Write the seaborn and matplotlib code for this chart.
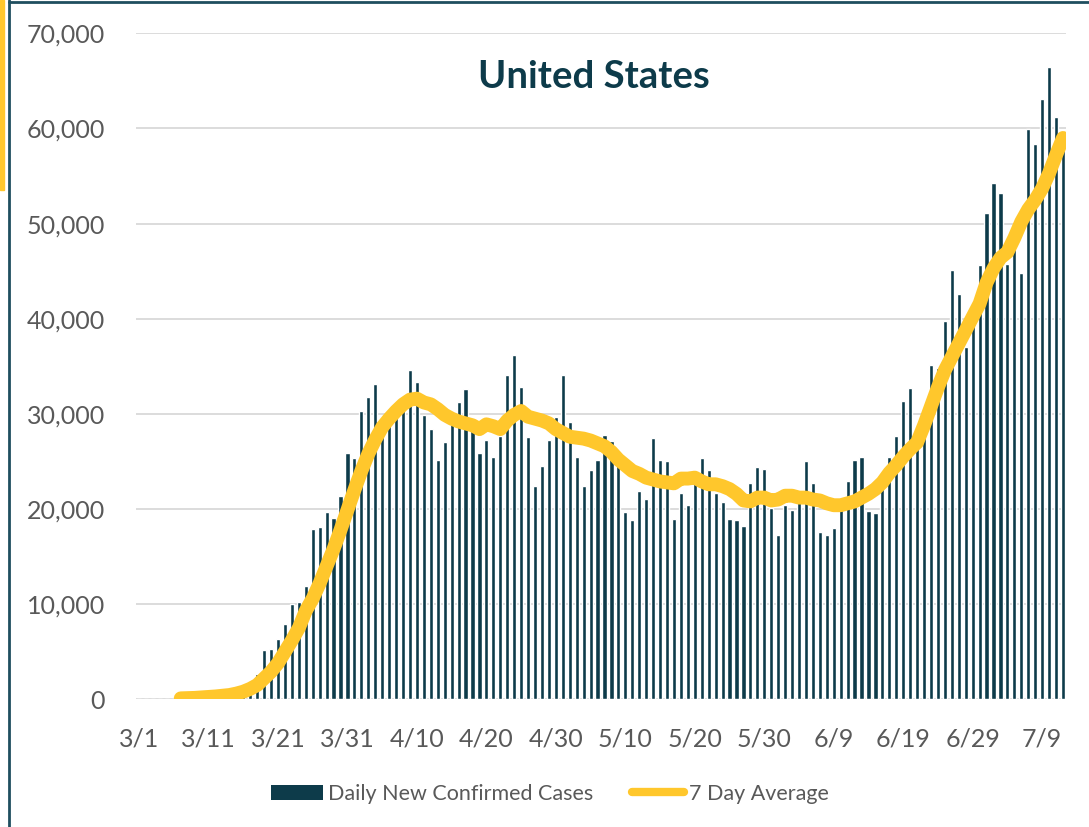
import numpy as np
import pandas as pd
import seaborn as sns
import matplotlib.pyplot as plt
from matplotlib.patches import Patch, Rectangle
from matplotlib.lines import Line2D
from matplotlib.ticker import FuncFormatter

sns.set_style("white")
plt.rcParams['font.family'] = ['Lato', 'DejaVu Sans']

# days 3/1 .. 7/12
dates = pd.date_range('2020-03-01', '2020-07-12')
day_labels = [f"{d.month}/{d.day}" for d in dates]

# daily new confirmed cases (thousands)
daily_k = [
    0.01, 0.02, 0.02, 0.03, 0.07, 0.05, 0.17, 0.12, 0.08, 0.19,
    0.36, 0.44, 0.63, 0.76, 0.9, 1.26, 1.68, 2.7, 5.2, 5.3,
    6.3, 7.9, 10.0, 10.2, 11.9, 17.9, 18.1, 19.7, 19.1, 21.4,
    25.9, 25.4, 30.3, 31.8, 33.1, 28.5, 29.5, 30.5, 31.6, 34.6,
    33.4, 29.9, 28.4, 25.2, 27.0, 29.0, 31.2, 32.6, 28.3, 25.9,
    27.3, 25.5, 27.7, 34.1, 36.2, 32.8, 27.6, 22.4, 24.5, 27.3,
    29.7, 34.1, 29.1, 25.5, 22.4, 24.1, 25.2, 27.8, 27.1, 24.8,
    19.7, 18.8, 21.9, 21.1, 27.5, 25.2, 25.0, 19.0, 21.7, 20.4,
    23.0, 25.4, 24.1, 21.7, 20.7, 18.9, 18.8, 18.2, 22.7, 24.4,
    24.2, 20.1, 17.3, 20.4, 19.9, 20.9, 25.1, 22.7, 17.6, 17.3,
    18.0, 19.9, 22.9, 25.2, 25.5, 19.8, 19.6, 23.6, 25.5, 27.7,
    31.4, 32.7, 26.5, 30.4, 35.1, 34.8, 39.8, 45.1, 42.6, 37.0,
    41.3, 45.6, 51.1, 54.3, 53.2, 45.8, 49.7, 44.8, 59.9, 58.4,
    63.1, 66.5, 61.2, 58.5,
]

# 7 day average (thousands), starts on 3/7
avg_start = 6
avg_k = [
    0.1, 0.12, 0.15, 0.2, 0.25, 0.3, 0.38, 0.45, 0.6, 0.8,
    1.1, 1.5, 2.2, 2.9, 3.8, 5.0, 6.2, 7.5, 9.3, 10.6,
    12.2, 14.0, 15.8, 17.8, 19.9, 22.0, 24.0, 25.8, 27.3, 28.6,
    29.5, 30.3, 31.0, 31.5, 31.6, 31.2, 31.0, 30.5, 29.9, 29.5,
    29.2, 29.0, 28.8, 28.4, 28.9, 28.7, 28.4, 29.3, 29.9, 30.3,
    29.7, 29.5, 29.3, 29.0, 28.4, 28.0, 27.6, 27.5, 27.4, 27.2,
    26.9, 26.6, 26.0, 25.2, 24.6, 24.0, 23.7, 23.3, 23.1, 22.9,
    22.8, 22.7, 23.2, 23.2, 23.3, 22.9, 22.6, 22.6, 22.4, 22.1,
    21.6, 20.9, 20.8, 21.2, 21.2, 20.9, 21.0, 21.4, 21.4, 21.2,
    21.2, 21.0, 20.9, 20.6, 20.4, 20.4, 20.6, 20.8, 21.2, 21.6,
    22.1, 22.8, 23.8, 24.6, 25.5, 26.3, 27.0, 28.8, 30.8, 32.8,
    34.6, 36.0, 37.4, 38.8, 40.2, 41.6, 43.8, 45.3, 46.4, 47.0,
    48.5, 50.2, 51.5, 52.5, 53.7, 55.3, 57.2, 59.0,
]

teal = '#0D3B4A'
gold = '#FFC72C'
gray = '#595959'

bars = pd.DataFrame({'day': day_labels, 'cases': np.array(daily_k) * 1000})
avg = pd.DataFrame({'pos': np.arange(avg_start, avg_start + len(avg_k)),
                    'avg': np.array(avg_k) * 1000})

fig = plt.figure(figsize=(10.89, 8.27), dpi=100)
ax = fig.add_axes([0.1245, 0.1544, 0.8548, 0.8053])

sns.barplot(data=bars, x='day', y='cases', color=teal, width=0.6,
            saturation=1, ax=ax)
sns.lineplot(data=avg, x='pos', y='avg', color=gold, linewidth=10,
             solid_capstyle='round', ax=ax)

ax.set_xlim(-0.5, len(day_labels) - 0.5)
ax.set_ylim(0, 70000)
ax.set_yticks(range(0, 70001, 10000))
ax.yaxis.set_major_formatter(FuncFormatter(lambda v, p: f"{int(v):,}"))
ax.set_xticks(range(0, len(day_labels), 10))
ax.set_xticklabels(day_labels[::10])
ax.set_xlabel('')
ax.set_ylabel('')
ax.tick_params(axis='x', length=0, pad=20, labelsize=18, labelcolor=gray)
ax.tick_params(axis='y', length=0, pad=22, labelsize=18, labelcolor=gray)
ax.yaxis.grid(True, color='#D9D9D9', linewidth=1.3)
ax.set_axisbelow(True)
sns.despine(ax=ax, left=True, bottom=True)

fig.text(594 / 1089, 1 - 77 / 827, 'United States', ha='center', va='center',
         fontsize=27.5, fontweight='bold', color=teal)

handles = [Patch(facecolor=teal, edgecolor='none'),
           Line2D([0], [0], color=gold, linewidth=6, solid_capstyle='round')]
fig.legend(handles, ['Daily New Confirmed Cases', '7 Day Average'],
           loc='center', bbox_to_anchor=(0.505, 0.04), ncol=2, frameon=False,
           fontsize=15.5, labelcolor=gray, handlelength=2.4, handletextpad=0.25,
           columnspacing=1.8)

# slide frame
fig.add_artist(Line2D([9 / 1089, 9 / 1089], [0, 1], color='#1F4E5F', lw=2))
fig.add_artist(Line2D([9 / 1089, 1], [1 - 1.5 / 827, 1 - 1.5 / 827],
                      color='#1F4E5F', lw=2))
fig.add_artist(Rectangle((0, 1 - 190 / 827), 4 / 1089, 190 / 827,
                         color=gold, transform=fig.transFigure))

fig.savefig('out.png', dpi=100)
